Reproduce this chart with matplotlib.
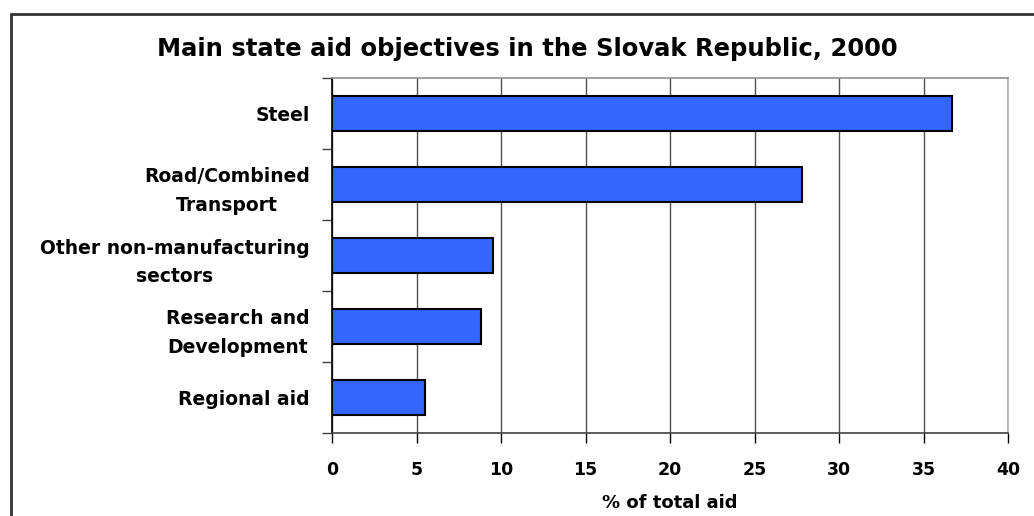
import matplotlib.pyplot as plt
from matplotlib.patches import Rectangle
from matplotlib.ticker import FixedLocator, NullFormatter

categories = ['Steel', 'Road/Combined\nTransport', 'Other non-manufacturing\nsectors',
              'Research and\nDevelopment', 'Regional aid']
shares = [36.7, 27.8, 9.5, 8.8, 5.5]
x_ticks = [0, 5, 10, 15, 20, 25, 30, 35, 40]

plt.rcParams['font.family'] = ['DejaVu Sans']
plt.rcParams['font.weight'] = 'bold'

fig = plt.figure(figsize=(10.34, 5.16), dpi=100)
ax = fig.add_axes([332 / 1034, 83 / 516, 676 / 1034, 355 / 516])

ypos = list(range(len(categories)))
ax.barh(ypos, shares, height=0.5, color='#3366FF', edgecolor='black',
        linewidth=1.5, zorder=3)

ax.set_xlim(0, 40)
ax.set_ylim(len(categories) - 0.5, -0.5)
ax.set_xticks(x_ticks)
ax.set_xticklabels([str(t) for t in x_ticks], fontsize=12.5, fontweight='bold')
ax.tick_params(axis='x', direction='out', length=7, width=1, pad=13, colors='black')

# category names at bar centres, ticks on the boundaries between them
ax.set_yticks(ypos)
ax.set_yticklabels(categories, fontsize=13.5, fontweight='bold', linespacing=1.65)
for lbl in ax.get_yticklabels():
    lbl.set_multialignment('center')
ax.tick_params(axis='y', which='major', length=0, pad=16)
ax.yaxis.set_minor_locator(FixedLocator([i - 0.5 for i in range(len(categories) + 1)]))
ax.yaxis.set_minor_formatter(NullFormatter())
ax.tick_params(axis='y', which='minor', direction='out', length=7, width=1, color='#404040')

ax.grid(axis='x', color='#505050', linewidth=1, zorder=0)
ax.spines['left'].set_color('black')
ax.spines['bottom'].set_color('#404040')
ax.spines['top'].set_color('#909090')
ax.spines['right'].set_color('#b0b0b0')
for s in ax.spines.values():
    s.set_linewidth(1.2)

ax.set_xlabel('% of total aid', fontsize=13, fontweight='bold', labelpad=11)

fig.text(527 / 1034, 467 / 516, 'Main state aid objectives in the Slovak Republic, 2000',
         ha='center', va='center', fontsize=17.5, fontweight='bold')

# outer chart border, running off the right and bottom edges
fig.patches.append(Rectangle((11 / 1034, -0.1), 1.2, (502 / 516) + 0.1,
                             transform=fig.transFigure, fill=False,
                             edgecolor='#333333', linewidth=2))

fig.savefig('out.png', dpi=100)
